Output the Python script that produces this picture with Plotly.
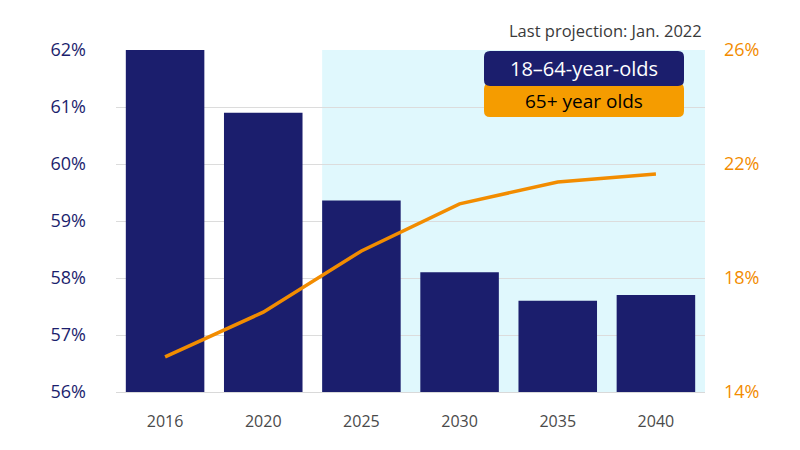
import plotly.graph_objects as go

years = ["2016", "2020", "2025", "2030", "2035", "2040"]
share_18_64 = [62.0, 60.9, 59.36, 58.1, 57.6, 57.7]
share_65_plus = [15.23, 16.8, 18.95, 20.6, 21.37, 21.65]
left_ticks = [56, 57, 58, 59, 60, 61, 62]
right_ticks = [14, 18, 22, 26]

NAVY = "#1b1e6d"
ORANGE = "#f28c00"
BOX_ORANGE = "#f59c00"
FONT = "Open Sans"

OFF = 8  # page offset of the figure
W, H = 800, 450
ML, MT = 116 - OFF, 50 - OFF
PW, PH = 589, 342
MR, MB = W - ML - PW, H - MT - PH

fig = go.Figure()
fig.add_trace(go.Bar(x=years, y=share_18_64, marker_color=NAVY, marker_line_width=0,
                     name="18–64-year-olds", yaxis="y"))
fig.add_trace(go.Scatter(x=years, y=share_65_plus, mode="lines",
                         line=dict(color=ORANGE, width=3.5), name="65+ year olds", yaxis="y2"))

# projection shading
fig.add_shape(type="rect", xref="x", yref="paper", x0=1.6, x1=5.5, y0=0, y1=1,
              fillcolor="#e0f8fd", line_width=0, layer="below")


def px2paper(px, py):
    return (px - OFF - ML) / PW, (MT + PH - (py - OFF)) / PH


def rounded(x0, y0, x1, y1, r):
    def P(x, y):
        a, b = px2paper(x, y)
        return f"{a:.5f},{b:.5f}"
    return (f"M {P(x0 + r, y0)} L {P(x1 - r, y0)} Q {P(x1, y0)} {P(x1, y0 + r)} "
            f"L {P(x1, y1 - r)} Q {P(x1, y1)} {P(x1 - r, y1)} "
            f"L {P(x0 + r, y1)} Q {P(x0, y1)} {P(x0, y1 - r)} "
            f"L {P(x0, y0 + r)} Q {P(x0, y0)} {P(x0 + r, y0)} Z")


fig.add_shape(type="path", xref="paper", yref="paper", path=rounded(484, 83, 684, 117, 6),
              fillcolor=BOX_ORANGE, line_width=0, layer="above")
fig.add_shape(type="path", xref="paper", yref="paper", path=rounded(484, 51, 684, 86, 6),
              fillcolor=NAVY, line_width=0, layer="above")

bx, by = px2paper(584, 68)
fig.add_annotation(xref="paper", yref="paper", x=bx, y=by, text="18–64-year-olds",
                   showarrow=False, xanchor="center", yanchor="middle",
                   font=dict(family=FONT, size=20, color="white"))
bx, by = px2paper(584, 101)
fig.add_annotation(xref="paper", yref="paper", x=bx, y=by, text="65+ year olds",
                   showarrow=False, xanchor="center", yanchor="middle",
                   font=dict(family=FONT, size=19, color="black"))
tx, ty = px2paper(704, 31)
fig.add_annotation(xref="paper", yref="paper", x=tx, y=ty, text="Last projection: Jan. 2022",
                   showarrow=False, xanchor="right", yanchor="middle",
                   font=dict(family=FONT, size=16.5, color="#3a3a3a"))

fig.update_layout(
    width=W, height=H,
    margin=dict(l=ML, r=MR, t=MT, b=MB, autoexpand=False),
    paper_bgcolor="white", plot_bgcolor="white",
    showlegend=False, bargap=0.2,
    font=dict(family=FONT),
    xaxis=dict(type="category", tickfont=dict(size=16, color="#4a4a4a"), showgrid=False,
               showline=True, linecolor="#d9d9d9", ticklabelstandoff=15),
    yaxis=dict(range=[56, 62], tickvals=left_ticks, ticktext=[f"{v}%" for v in left_ticks],
               tickfont=dict(size=18, color=NAVY), gridcolor="#dcdcdc", zeroline=False,
               ticklabelstandoff=29),
    yaxis2=dict(range=[14, 26], tickvals=right_ticks, ticktext=[f"{v}%" for v in right_ticks],
                tickfont=dict(size=18, color=ORANGE), overlaying="y", side="right",
                showgrid=False, zeroline=False, ticklabelstandoff=18),
)

fig.write_html("out.html")
